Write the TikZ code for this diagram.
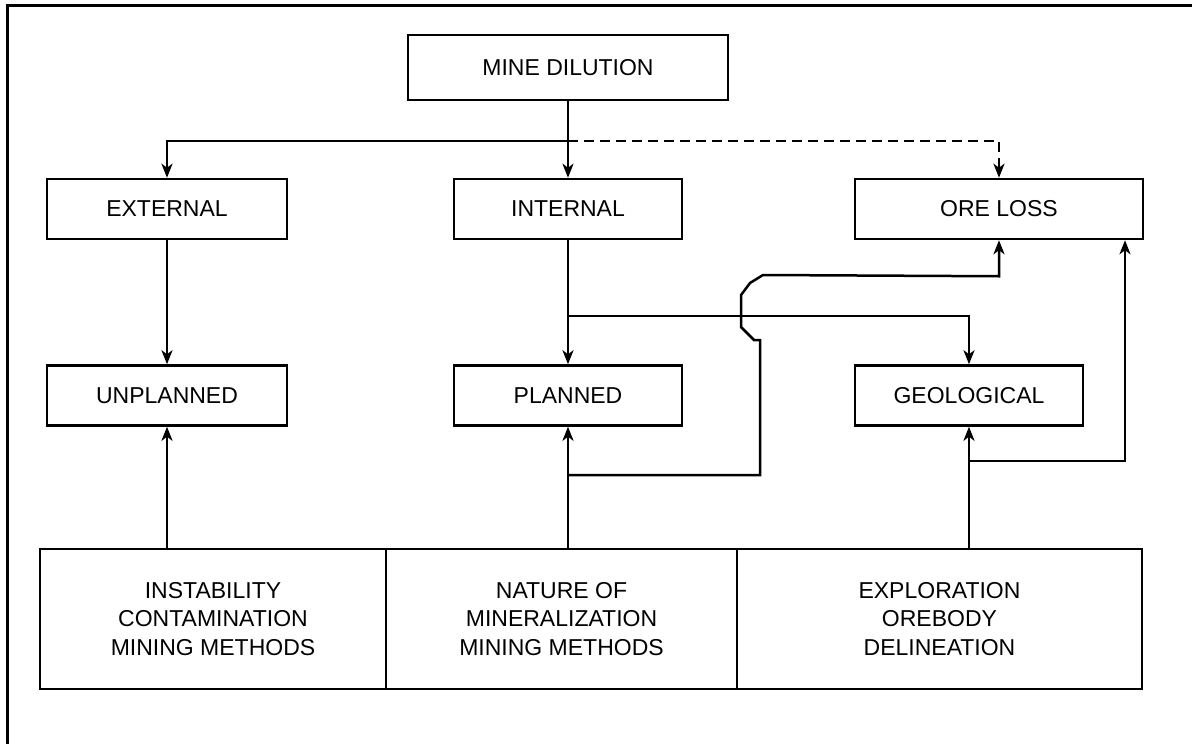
\documentclass[tikz,border=0pt]{standalone}
\usepackage{fontspec}
\setmainfont{Liberation Sans}
\usetikzlibrary{arrows.meta,calc}
\begin{document}
\begin{tikzpicture}[x=1pt,y=-1pt,line width=2.5pt,
  box/.style={draw,line width=2.5pt,minimum width=#1,minimum height=60pt,inner sep=0pt,align=center,font=\fontsize{23}{28.5}\selectfont},
  arr/.style={-{Stealth[length=14pt,width=11pt,inset=4pt]},line width=2.5pt},
  dashedarr/.style={arr,dash pattern=on 10pt off 6pt}]
\useasboundingbox (0,0) rectangle (1192,744);
% frame (top and left only)
\draw[line width=2.5pt] (7.5,744) -- (7.5,5.5) -- (1192,5.5);
% nodes
\node[box=320pt,minimum height=65pt] (mine) at (568,67.5) {MINE DILUTION};
\node[box=240pt] (ext) at (167,209) {EXTERNAL};
\node[box=228pt] (int) at (568,209) {INTERNAL};
\node[box=288pt] (ore) at (999,209) {ORE LOSS};
\node[box=240pt] (unp) at (167,395.5) {UNPLANNED};
\node[box=228pt] (pla) at (568,395.5) {PLANNED};
\node[box=228pt] (geo) at (969,395.5) {GEOLOGICAL};
\node[box=346pt,minimum height=140pt] (b1) at (213,619) {INSTABILITY\\CONTAMINATION\\MINING METHODS};
\node[box=351pt,minimum height=140pt] (b2) at (561.5,619) {NATURE OF\\MINERALIZATION\\MINING METHODS};
\node[box=405pt,minimum height=140pt] (b3) at (939.5,619) {EXPLORATION\\OREBODY\\DELINEATION};
% coordinates
\coordinate (split) at (568,141);
\coordinate (j1) at (568,316);
\coordinate (j2) at (568,475);
\coordinate (j3) at (969,461);
% connectors
\draw[arr] (mine.south) -- (int.north);
\draw[arr] (split) -| (ext.north);
\draw[dashedarr] (split) -| (ore.north);
\draw[arr] (ext.south) -- (unp.north);
\draw[arr] (int.south) -- (pla.north);
\draw[arr] (j1) -| (geo.north);
\draw[arr] (unp.south |- b1.north) -- (unp.south);
\draw[arr] (pla.south |- b2.north) -- (pla.south);
\draw[arr] (geo.south |- b3.north) -- (geo.south);
\draw[arr] (j2) -- (760,475) -- (760,340) -- (754,340) -- (741,327) -- (741,295) -- (750,283) -- (763,275) -- ($(ore.south)+(0,36)$) -- (ore.south);
\draw[arr] (j3) -| ($(ore.south)+(126,0)$);
\end{tikzpicture}
\end{document}
